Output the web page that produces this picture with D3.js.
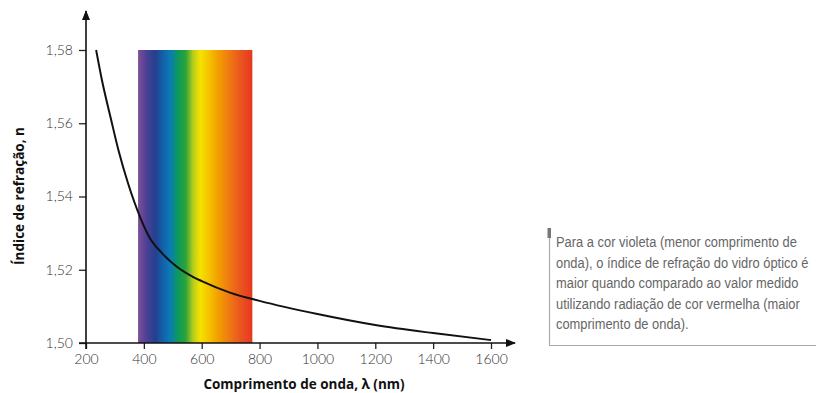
<!DOCTYPE html>
<html>
<head>
<meta charset="utf-8">
<script src="https://cdn.jsdelivr.net/npm/d3@7"></script>
<style>
  html, body { margin: 0; padding: 0; background: #fff; }
  svg { display: block; }
</style>
</head>
<body>
<svg id="chart" width="816" height="393"></svg>
<script>
// Refractive index of optical glass vs. wavelength
const wavelengths = [235, 255, 287, 312, 345, 387, 419, 462, 514, 571, 600, 700, 800, 1000, 1200, 1400, 1600];
const refractiveIndex = [1.5800, 1.5718, 1.5609, 1.5527, 1.5437, 1.5344, 1.5289, 1.5246, 1.5208, 1.5180, 1.5169, 1.5137, 1.5115, 1.5079, 1.5049, 1.5027, 1.5008];

const xTicks = [200, 400, 600, 800, 1000, 1200, 1400, 1600];
const yTicks = [1.50, 1.52, 1.54, 1.56, 1.58];

// Visible band and its colour stops (nm)
const visibleRange = [380, 775];
const spectrumStops = [
  { nm: 380, color: "#7e4f98" },
  { nm: 410, color: "#4a4094" },
  { nm: 440, color: "#24408f" },
  { nm: 465, color: "#1360a8" },
  { nm: 490, color: "#0b7ab6" },
  { nm: 520, color: "#0e9a58" },
  { nm: 545, color: "#2ea33a" },
  { nm: 570, color: "#b6cc1c" },
  { nm: 595, color: "#f6e200" },
  { nm: 625, color: "#f5c300" },
  { nm: 660, color: "#f29c00" },
  { nm: 695, color: "#ee7a12" },
  { nm: 735, color: "#ea5420" },
  { nm: 775, color: "#e6381f" }
];

const noteLines = [
  "Para a cor violeta (menor comprimento de",
  "onda), o índice de refração do vidro óptico é",
  "maior quando comparado ao valor medido",
  "utilizando radiação de cor vermelha (maior",
  "comprimento de onda)."
];

const svg = d3.select("#chart");

const x = d3.scaleLinear().domain([200, 1600]).range([86, 491]);
const y = d3.scaleLinear().domain([1.50, 1.58]).range([343, 50]);

// Spectrum gradient
const defs = svg.append("defs");
const grad = defs.append("linearGradient")
  .attr("id", "spectrum")
  .attr("x1", "0%").attr("x2", "100%").attr("y1", "0%").attr("y2", "0%");
grad.selectAll("stop").data(spectrumStops).join("stop")
  .attr("offset", d => ((d.nm - visibleRange[0]) / (visibleRange[1] - visibleRange[0]) * 100) + "%")
  .attr("stop-color", d => d.color);

svg.append("rect")
  .attr("x", x(visibleRange[0]))
  .attr("y", y(1.58))
  .attr("width", x(visibleRange[1]) - x(visibleRange[0]))
  .attr("height", y(1.50) - y(1.58))
  .attr("fill", "url(#spectrum)");

// Arrow markers
defs.append("marker")
  .attr("id", "arrow")
  .attr("viewBox", "0 0 10 10")
  .attr("refX", 9).attr("refY", 5)
  .attr("markerWidth", 10).attr("markerHeight", 10)
  .attr("markerUnits", "userSpaceOnUse")
  .attr("orient", "auto")
  .append("path").attr("d", "M0,1 L10,5 L0,9 Z").attr("fill", "#111");

const tickFont = "Lato, 'Open Sans', sans-serif";

// Y axis
const yAxis = d3.axisLeft(y).tickValues(yTicks).tickSize(7).tickPadding(6)
  .tickFormat(d => d3.format(".2f")(d).replace(".", ","));
const gy = svg.append("g").attr("transform", `translate(${x(200)},0)`).call(yAxis);
gy.select(".domain").remove();
gy.selectAll(".tick line").attr("stroke", "#222").attr("stroke-width", 1.3);
gy.selectAll(".tick text")
  .attr("font-family", tickFont).attr("font-weight", 300)
  .attr("font-size", 14).attr("fill", "#333");

// X axis
const xAxis = d3.axisBottom(x).tickValues(xTicks).tickSize(6).tickPadding(5)
  .tickFormat(d3.format("d"));
const gx = svg.append("g").attr("transform", `translate(0,${y(1.50)})`).call(xAxis);
gx.select(".domain").remove();
gx.selectAll(".tick line").attr("stroke", "#222").attr("stroke-width", 1.3);
gx.selectAll(".tick text")
  .attr("font-family", tickFont).attr("font-weight", 300)
  .attr("font-size", 14).attr("fill", "#333");

// Axis lines with arrowheads
svg.append("line")
  .attr("x1", x(200)).attr("y1", y(1.50) + 6)
  .attr("x2", x(200)).attr("y2", 11)
  .attr("stroke", "#111").attr("stroke-width", 1.6)
  .attr("marker-end", "url(#arrow)");
svg.append("line")
  .attr("x1", x(200) - 7).attr("y1", y(1.50))
  .attr("x2", 515).attr("y2", y(1.50))
  .attr("stroke", "#111").attr("stroke-width", 1.6)
  .attr("marker-end", "url(#arrow)");

// Dispersion curve
const line = d3.line()
  .x((d, i) => x(wavelengths[i]))
  .y(d => y(d))
  .curve(d3.curveMonotoneX);
svg.append("path")
  .datum(refractiveIndex)
  .attr("d", line)
  .attr("fill", "none")
  .attr("stroke", "#111")
  .attr("stroke-width", 2);

// Axis titles
svg.append("text")
  .attr("x", 304).attr("y", 389)
  .attr("text-anchor", "middle")
  .attr("font-family", "'Open Sans', Lato, sans-serif")
  .attr("font-weight", 700).attr("font-size", 13.5).attr("fill", "#111")
  .text("Comprimento de onda, λ (nm)");

svg.append("text")
  .attr("transform", "translate(24,196) rotate(-90)")
  .attr("text-anchor", "middle")
  .attr("font-family", "'Open Sans', Lato, sans-serif")
  .attr("font-weight", 700).attr("font-size", 13.5).attr("fill", "#111")
  .text("Índice de refração, n");

// Annotation box
const note = svg.append("g");
note.append("line")
  .attr("x1", 549.5).attr("y1", 228).attr("x2", 549.5).attr("y2", 345.5)
  .attr("stroke", "#aaa").attr("stroke-width", 1.2);
note.append("line")
  .attr("x1", 549).attr("y1", 345.5).attr("x2", 816).attr("y2", 345.5)
  .attr("stroke", "#aaa").attr("stroke-width", 1.2);
note.append("rect")
  .attr("x", 547.5).attr("y", 228).attr("width", 3.5).attr("height", 10)
  .attr("fill", "#777");

// Condensed look: draw each line in a regular face, then squeeze it horizontally
const condense = 0.89;
note.selectAll("text").data(noteLines).join("text")
  .attr("transform", (d, i) => `translate(556,${247 + i * 20.5}) scale(${condense},1)`)
  .attr("font-family", "'Liberation Sans', Arial, sans-serif")
  .attr("font-size", 14.5)
  .attr("fill", "#666")
  .text(d => d);
</script>
</body>
</html>
